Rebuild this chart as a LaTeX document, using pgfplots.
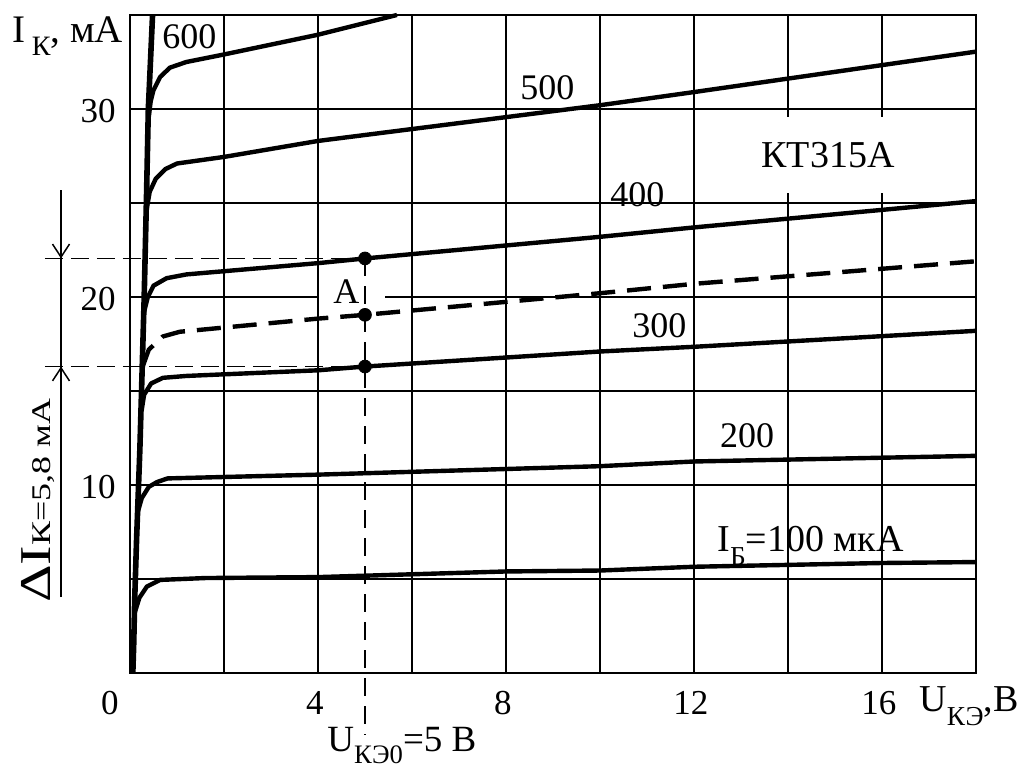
\documentclass[border=0pt]{standalone}
\usepackage{fontspec}
\setmainfont{Liberation Serif}
\usepackage{pgfplots}
\pgfplotsset{compat=1.18}
\usetikzlibrary{arrows.meta}
\newcommand\fs[1]{\fontsize{#1}{#1}\selectfont}
\newcommand\sub[1]{\raisebox{-0.35em}{\scalebox{0.72}{#1}}}
\begin{document}
\begin{tikzpicture}
\begin{axis}[
  x=23.5pt, y=9.4pt,
  xmin=0, xmax=18, ymin=0, ymax=35,
  clip=false,
  axis line style={line width=1pt, black},
  xtick={4,8,12,16}, xticklabels={4,8,12,16},
  minor xtick={2,6,10,14},
  ytick={10,20,30}, yticklabels={10,20,30},
  minor ytick={5,15,25},
  grid=both,
  major grid style={black, line width=0.75pt},
  minor grid style={black, line width=0.75pt},
  major tick length=0pt, minor tick length=0pt,
  xticklabel style={font=\fs{17.5pt}, anchor=base, inner sep=0pt, yshift=-21pt, xshift=-1.5pt},
  yticklabel style={font=\fs{17.5pt}, anchor=east, inner sep=0pt, xshift=-7pt, yshift=-1pt},
]
% white patches behind labels
\fill[white] (axis cs:13.3,25.53) rectangle (axis cs:16.49,29.57);
\fill[white] (axis cs:4.03,19.25) rectangle (axis cs:5.43,21.4);

% common steep rise
\addplot[black, line width=2.8pt, line join=round] coordinates {
(0.06,0) (0.08,1.6) (0.1,3.9) (0.14,7.1) (0.21,11.9) (0.25,15.4) (0.3,19.8) (0.35,25.2) (0.39,30) (0.48,35)};
% IB = 600
\addplot[black, line width=2.2pt, line join=round] coordinates {
(0.4,29.6) (0.44,30.4) (0.5,31.0) (0.64,31.7) (0.85,32.2) (1.2,32.5) (2,32.9) (4,33.95) (5.68,35)};
% IB = 500
\addplot[black, line width=2.2pt, line join=round] coordinates {
(0.35,24.6) (0.42,25.6) (0.55,26.3) (0.75,26.8) (1.0,27.1) (2,27.45) (4,28.3) (10,30.2) (12,30.9) (18,33.05)};
% IB = 400
\addplot[black, line width=2.2pt, line join=round] coordinates {
(0.3,19.2) (0.38,20.0) (0.5,20.6) (0.78,21.0) (1.2,21.2) (4,21.8) (5,22.05) (10,23.2) (12,23.7) (18,25.1)};
% IB = 350 (operating point, dashed)
\addplot[black, line width=2.2pt, line join=round, dash pattern=on 12pt off 6pt] coordinates {
(0.27,16.3) (0.4,17.2) (0.7,17.9) (1.06,18.15) (4,18.85) (5,19.05) (10,20.2) (12,20.7) (18,21.9)};
% IB = 300
\addplot[black, line width=2.2pt, line join=round] coordinates {
(0.25,14.0) (0.3,14.8) (0.45,15.4) (0.7,15.7) (1.2,15.8) (4,16.1) (5,16.3) (10,17.1) (12,17.35) (18,18.2)};
% IB = 200
\addplot[black, line width=2.2pt, line join=round] coordinates {
(0.17,8.6) (0.25,9.3) (0.4,9.9) (0.57,10.15) (0.8,10.35) (4,10.55) (10,11.0) (12,11.25) (18,11.55)};
% IB = 100
\addplot[black, line width=2.2pt, line join=round] coordinates {
(0.1,3.2) (0.2,4.0) (0.36,4.6) (0.64,4.95) (1.6,5.05) (4,5.1) (8,5.4) (10,5.45) (12,5.65) (16,5.85) (18,5.9)};
% operating points
\addplot[only marks, mark=*, mark size=3.2pt, black] coordinates {(5,22.05) (5,19.05) (5,16.3)};

% dashed construction lines
\draw[line width=0.75pt, dash pattern=on 9pt off 4pt] (axis cs:-1.81,22.05) -- (axis cs:5,22.05);
\draw[line width=0.75pt, dash pattern=on 9pt off 4pt] (axis cs:-1.81,16.3) -- (axis cs:5,16.3);
\draw[line width=0.75pt, dash pattern=on 9pt off 5pt] (axis cs:5,22.05) -- (axis cs:5,-3.3);
% delta I dimension
\draw[line width=0.75pt] (axis cs:-1.468,25.69) -- (axis cs:-1.468,4.04);
\draw[line width=0.75pt, -{Straight Barb[length=6.5pt,width=8.5pt]}] (axis cs:-1.468,25.69) -- (axis cs:-1.468,22.05);
\draw[line width=0.75pt, -{Straight Barb[length=6.5pt,width=8.5pt]}] (axis cs:-1.468,4.04) -- (axis cs:-1.468,16.3);

% labels
\node[anchor=base west, font=\fs{18pt}, inner sep=0pt] at (axis cs:0.68,33.24) {600};
\node[anchor=base west, font=\fs{18pt}, inner sep=0pt] at (axis cs:8.30,30.48) {500};
\node[anchor=base west, font=\fs{18pt}, inner sep=0pt] at (axis cs:10.21,24.79) {400};
\node[anchor=base west, font=\fs{18pt}, inner sep=0pt] at (axis cs:10.68,17.82) {300};
\node[anchor=base west, font=\fs{18pt}, inner sep=0pt] at (axis cs:12.55,12.02) {200};
\node[anchor=base west, font=\fs{19pt}, inner sep=0pt] at (axis cs:12.49,6.44) {I\sub{Б}=100 мкА};
\node[anchor=base west, font=\fs{19pt}, inner sep=0pt] at (axis cs:13.43,26.91) {КТ315А};
\node[anchor=base west, font=\fs{18pt}, inner sep=0pt] at (axis cs:4.32,19.68) {А};
\node[anchor=base west, font=\fs{19.5pt}, inner sep=0pt] at (axis cs:-2.51,33.56) {I\,\sub{К}, мА};
\node[anchor=base west, font=\fs{19pt}, inner sep=0pt] at (axis cs:16.79,-2.07) {U\sub{КЭ},В};
\node[anchor=base west, font=\fs{18.5pt}, inner sep=0pt] at (axis cs:4.19,-4.15) {U\sub{КЭ0}=5 В};
\node[anchor=base, font=\fs{17.5pt}, inner sep=0pt] at (axis cs:-0.43,-2.23) {0};
\node[rotate=90, anchor=base west, inner sep=0pt] at (axis cs:-1.70,3.72)
  {\scalebox{1.33}[1]{\fs{22pt}ΔI\fs{13.5pt}К=5,8 мА}};

\coordinate (bbsw) at (axis cs:-2.766,-5.106);
\coordinate (bbne) at (axis cs:19.043,35.798);
\end{axis}
\pgfresetboundingbox
\path[use as bounding box] (bbsw) rectangle (bbne);
\end{tikzpicture}
\end{document}
